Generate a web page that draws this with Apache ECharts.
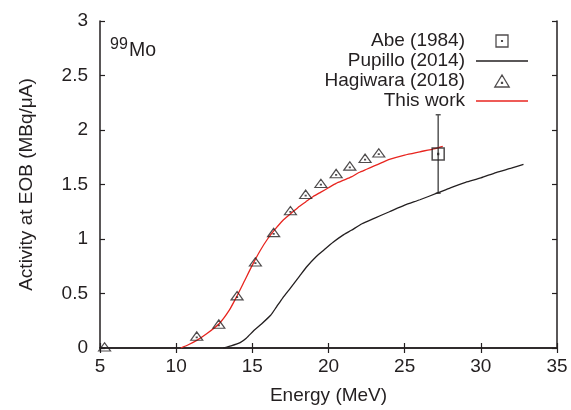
<!DOCTYPE html>
<html>
<head>
<meta charset="utf-8">
<script src="https://cdn.jsdelivr.net/npm/echarts@6/dist/echarts.min.js"></script>
<style>html,body{margin:0;padding:0;background:#fff}#c{width:571px;height:410px}</style>
</head>
<body>
<div id="c"></div>
<script>
// ---- data ----
const abeX = [27.2];
const abeY = [1.78];
const abeErr = [0.36];

const pupilloX = [13.1, 13.6, 14.2, 14.6, 15.1, 15.6, 16.2, 16.6, 17.0, 17.5, 18.1, 18.6, 19.2, 19.7, 20.3, 21.0, 21.5, 22.2, 23.0, 24.0, 25.0, 26.0, 27.2, 28.0, 29.0, 30.0, 31.0, 32.0, 32.8];
const pupilloY = [0.0, 0.02, 0.05, 0.09, 0.16, 0.22, 0.30, 0.38, 0.46, 0.55, 0.66, 0.75, 0.84, 0.90, 0.97, 1.04, 1.08, 1.14, 1.19, 1.25, 1.31, 1.36, 1.425, 1.47, 1.52, 1.56, 1.61, 1.65, 1.685];

const hagiwaraX = [5.3, 11.35, 12.8, 14.0, 15.2, 16.4, 17.5, 18.5, 19.5, 20.5, 21.4, 22.4, 23.3];
const hagiwaraY = [0.01, 0.11, 0.22, 0.48, 0.79, 1.06, 1.26, 1.41, 1.51, 1.60, 1.67, 1.74, 1.79];

const workX = [10.3, 10.8, 11.35, 12.0, 12.8, 13.5, 14.0, 14.5, 15.0, 15.5, 16.0, 16.5, 17.0, 17.5, 18.0, 18.5, 19.0, 19.5, 20.0, 20.5, 21.0, 21.5, 22.0, 22.5, 23.0, 23.5, 24.0, 25.0, 26.0, 27.0, 27.5];
const workY = [0.0, 0.03, 0.07, 0.13, 0.22, 0.35, 0.48, 0.62, 0.76, 0.89, 1.0, 1.09, 1.17, 1.23, 1.29, 1.34, 1.39, 1.43, 1.47, 1.51, 1.54, 1.57, 1.61, 1.64, 1.67, 1.70, 1.73, 1.77, 1.80, 1.83, 1.85];

const xTicks = [5, 10, 15, 20, 25, 30, 35];
const yTicks = [0, 0.5, 1, 1.5, 2, 2.5, 3];
const seriesNames = ['Abe (1984)', 'Pupillo (2014)', 'Hagiwara (2018)', 'This work'];

// ---- chart ----
const zip = (a, b) => a.map((v, i) => [v, b[i]]);
const ink = '#231f20';
const red = '#e8251f';
const font = 'Liberation Sans, Arial, sans-serif';
const squarePath = 'path://M0,0 L12,0 L12,12 L0,12 Z M5.6,5.6 L6.4,5.6 L6.4,6.4 L5.6,6.4 Z';
const triPath = 'path://M0,10 L6,0 L12,10 Z M5.6,6.2 L6.4,6.2 L6.4,7 L5.6,7 Z';
const linePath = 'path://M0,0 L52,0 L52,1.4 L0,1.4 Z';

const chart = echarts.init(document.getElementById('c'), null, {renderer: 'canvas'});
const axisCommon = {
  axisLine: {show: true, lineStyle: {color: ink, width: 1.5}},
  axisTick: {show: true, inside: true, length: 5, lineStyle: {color: ink, width: 1.2}},
  splitLine: {show: false}
};
const hollow = {color: 'rgba(0,0,0,0)', borderColor: ink, borderWidth: 1.3};
chart.setOption({
  animation: false,
  backgroundColor: '#fff',
  textStyle: {fontFamily: font, color: ink},
  grid: {left: 100, right: 14, top: 21, bottom: 59},
  xAxis: [
    Object.assign({
      type: 'value', min: xTicks[0], max: xTicks[xTicks.length - 1], interval: 5,
      name: 'Energy (MeV)', nameLocation: 'middle', nameGap: 38,
      nameTextStyle: {fontSize: 19, color: ink, fontFamily: font},
      axisLabel: {fontSize: 19, color: ink, margin: 9, fontFamily: font}
    }, axisCommon),
    Object.assign({
      type: 'value', position: 'top', min: xTicks[0], max: xTicks[xTicks.length - 1], interval: 5,
      axisLabel: {show: false}
    }, axisCommon)
  ],
  yAxis: [
    Object.assign({
      type: 'value', min: yTicks[0], max: yTicks[yTicks.length - 1], interval: 0.5,
      name: 'Activity at EOB (MBq/μA)', nameLocation: 'middle', nameGap: 64,
      nameTextStyle: {fontSize: 19, color: ink, fontFamily: font},
      axisLabel: {fontSize: 19, color: ink, margin: 12, fontFamily: font}
    }, axisCommon),
    Object.assign({
      type: 'value', position: 'right', min: yTicks[0], max: yTicks[yTicks.length - 1], interval: 0.5,
      axisLabel: {show: false}
    }, axisCommon)
  ],
  legend: {
    orient: 'vertical', right: 38, top: 26, align: 'right',
    itemWidth: 52, itemHeight: 12, itemGap: 0,
    textStyle: {fontSize: 19, color: ink, fontFamily: font, lineHeight: 20, padding: [0, 6, 0, 0]},
    data: [
      {name: seriesNames[0], icon: squarePath, itemStyle: hollow},
      {name: seriesNames[1], icon: linePath, itemStyle: {color: ink, borderWidth: 0}},
      {name: seriesNames[2], icon: triPath, itemStyle: hollow},
      {name: seriesNames[3], icon: linePath, itemStyle: {color: red, borderWidth: 0}}
    ]
  },
  graphic: [
    {type: 'text', left: 110, top: 37, style: {text: '99', fontSize: 16, fill: ink, fontFamily: font}},
    {type: 'text', left: 129, top: 41, style: {text: 'Mo', fontSize: 19.5, fill: ink, fontFamily: font}}
  ],
  series: [
    {
      name: 'abeErr', type: 'custom', z: 1, silent: true,
      data: abeX.map((x, i) => [x, abeY[i], abeErr[i]]),
      renderItem: function (params, api) {
        const x = api.value(0), y = api.value(1), e = api.value(2);
        const t = api.coord([x, y + e]), b = api.coord([x, y - e]);
        const st = {stroke: '#555', lineWidth: 1.5};
        return {type: 'group', children: [
          {type: 'line', shape: {x1: t[0], y1: t[1], x2: b[0], y2: b[1]}, style: st},
          {type: 'line', shape: {x1: t[0] - 2.5, y1: t[1], x2: t[0] + 2.5, y2: t[1]}, style: st},
          {type: 'line', shape: {x1: b[0] - 2.5, y1: b[1], x2: b[0] + 2.5, y2: b[1]}, style: st}
        ]};
      }
    },
    {
      name: seriesNames[0], type: 'scatter', z: 5, data: zip(abeX, abeY),
      symbol: squarePath, symbolSize: 12, symbolKeepAspect: true,
      itemStyle: {color: 'rgba(0,0,0,0)', borderColor: ink, borderWidth: 1.5}
    },
    {
      name: seriesNames[1], type: 'line', z: 3, data: zip(pupilloX, pupilloY),
      symbol: 'none', smooth: 0.2, lineStyle: {color: ink, width: 1.3}, itemStyle: {color: ink}
    },
    {
      name: seriesNames[2], type: 'scatter', z: 5, data: zip(hagiwaraX, hagiwaraY),
      symbol: triPath, symbolSize: [12, 10], symbolKeepAspect: true,
      itemStyle: {color: 'rgba(0,0,0,0)', borderColor: ink, borderWidth: 1.2}
    },
    {
      name: seriesNames[3], type: 'line', z: 4, data: zip(workX, workY),
      symbol: 'none', smooth: 0.2, lineStyle: {color: red, width: 1.3}, itemStyle: {color: red}
    }
  ]
});
</script>
</body>
</html>
